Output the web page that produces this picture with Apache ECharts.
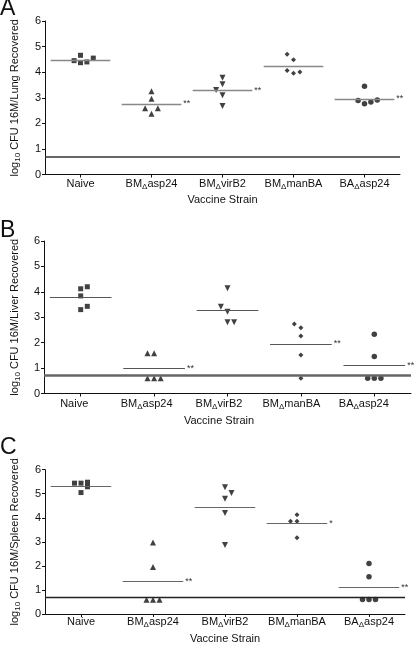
<!DOCTYPE html>
<html>
<head>
<meta charset="utf-8">
<script src="https://cdn.jsdelivr.net/npm/echarts@6/dist/echarts.min.js"></script>
<style>
html,body{margin:0;padding:0;background:#fff;}
#chart{width:416px;height:645px;}
</style>
</head>
<body>
<div id="chart"></div>
<script>
// ---------- data ----------
const categories = ['Naive', 'BMΔasp24', 'BMΔvirB2', 'BMΔmanBA', 'BAΔasp24'];
const yTicks = [0, 1, 2, 3, 4, 5, 6];
const detectionLimit = 0.7;

// Panel A: lung
const lungNaive   = [4.45, 4.66, 4.37, 4.40, 4.55];
const lungAsp24   = [3.25, 2.96, 2.59, 2.59, 2.37];
const lungVirB2   = [3.78, 3.53, 3.30, 3.10, 2.68];
const lungManBA   = [4.70, 4.49, 4.07, 3.96, 4.01];
const lungBAasp24 = [3.45, 2.89, 2.77, 2.83, 2.91];
const lungMeans   = [4.48, 2.76, 3.28, 4.25, 2.96];
const lungSig     = ['', '**', '**', '', '**'];
const lungSlots   = [[-1,0,0,1,2],[0,0,-1,1,0],[0,0,-1,0,0],[-1,0,-1,0,1],[0,-1,0,1,2]];

// Panel B: liver
const liverNaive   = [4.12, 4.20, 3.84, 3.43, 3.30];
const liverAsp24   = [1.58, 1.58, 0.60, 0.60, 0.60];
const liverVirB2   = [4.14, 3.41, 3.22, 2.80, 2.80];
const liverManBA   = [2.73, 2.59, 2.26, 1.51, 0.60];
const liverBAasp24 = [2.33, 1.46, 0.60, 0.60, 0.60];
const liverMeans   = [3.78, 0.98, 3.26, 1.95, 1.12];
const liverSig     = ['', '**', '', '**', '**'];
const liverSlots   = [[0,1,0,1,0],[-1,0,-1,0,1],[0,-1,0,0,1],[-1,0,0,0,0],[0,0,-1,0,1]];

// Panel C: spleen
const spleenNaive   = [5.44, 5.44, 5.48, 5.29, 5.05];
const spleenAsp24   = [2.97, 1.95, 0.59, 0.59, 0.59];
const spleenVirB2   = [5.27, 4.79, 5.03, 4.20, 2.87];
const spleenManBA   = [4.13, 3.86, 3.86, 3.17];
const spleenBAasp24 = [2.10, 1.55, 0.60, 0.60, 0.60];
const spleenMeans   = [5.33, 1.36, 4.42, 3.76, 1.10];
const spleenSig     = ['', '**', '', '*', '**'];
const spleenSlots   = [[-1,0,1,1,0],[0,0,-1,0,1],[0,0,1,0,0],[0,-1,0,0],[0,0,-1,0,1]];

// ---------- styling ----------
const FONT = '"Liberation Sans", Arial, Helvetica, sans-serif';
const INK = '#111';
const JIT = 0.09;     // jitter step in category units
const HALF = 0.42;    // half width of mean bar in category units
const symbols = ['rect', 'triangle', 'triangle', 'diamond', 'circle'];
const symbolRot = [0, 0, 180, 0, 0];
const symbolSz = [5, 6, 6, 5, 5.5];

function catLabel(s) { return s.replace('Δ', '{d|Δ}'); }
const catRich = { d: { fontSize: 8, verticalAlign: 'bottom', lineHeight: 9, fontFamily: FONT, color: INK } };
const nameRich = { s: { fontSize: 8, verticalAlign: 'bottom', lineHeight: 9, fontFamily: FONT, color: INK } };

const grids = [
  { left: 38, top: 21, width: 362, height: 153.5 },
  { left: 37, top: 241, width: 374, height: 152.5 },
  { left: 38, top: 241, width: 362, height: 152.5 },
  { left: 38, top: 469.7, width: 367, height: 145.6 }
];

function labelCfg(margin) {
  return { show: true, interval: 0, formatter: catLabel, fontSize: 11, color: INK, fontFamily: FONT, margin: margin, rich: catRich, lineHeight: 13 };
}
function catAxis(gi, opts) {
  return Object.assign({
    type: 'category', gridIndex: gi, data: categories, boundaryGap: true,
    axisLine: { onZero: false, lineStyle: { color: INK, width: 1 } },
    axisTick: { show: true, interval: 0, alignWithLabel: true, length: 3, lineStyle: { color: INK } },
    axisLabel: labelCfg(3),
    name: 'Vaccine Strain', nameLocation: 'middle', nameGap: 20,
    nameTextStyle: { fontSize: 11, color: INK, fontFamily: FONT, verticalAlign: 'top' },
    splitLine: { show: false }
  }, opts || {});
}
function valXAxis(gi) {
  return { type: 'value', gridIndex: gi, min: -0.5, max: 4.5, show: false, splitLine: { show: false } };
}
function yAxis(gi, name, opts) {
  return Object.assign({
    type: 'value', gridIndex: gi, min: yTicks[0], max: yTicks[yTicks.length - 1], interval: 1,
    axisLine: { show: true, onZero: false, lineStyle: { color: INK, width: 1 } },
    axisTick: { show: true, length: 3, lineStyle: { color: INK } },
    axisLabel: { fontSize: 11, color: INK, fontFamily: FONT, margin: 4 },
    splitLine: { show: false },
    name: name, nameLocation: 'middle', nameGap: 22, nameRotate: 90,
    nameTextStyle: { fontSize: 11, color: INK, fontFamily: FONT, lineHeight: 14, rich: nameRich }
  }, opts || {});
}

const xAxes = [
  catAxis(0, { nameGap: 20 }),
  valXAxis(0),
  catAxis(1, { axisLabel: { show: false }, name: '' }),
  valXAxis(1),
  catAxis(2, { axisLine: { show: false }, axisTick: { show: false }, nameGap: 22, axisLabel: labelCfg(4) }),
  catAxis(3, { nameGap: 19, axisLabel: labelCfg(1.5) }),
  valXAxis(3)
];
const yAxes = [
  yAxis(0, 'log{s|10} CFU 16M/Lung Recovered', { nameGap: 23 }),
  yAxis(1, 'log{s|10} CFU 16M/Liver Recovered', { nameGap: 22 }),
  yAxis(2, '', { show: false }),
  yAxis(3, 'log{s|10} CFU 16M/Spleen Recovered', { nameGap: 23 })
];

function panelSeries(groups, slots, means, sig, xIdx, yIdx, meanStyle, lodStyle) {
  const out = [];
  groups.forEach(function (vals, k) {
    const ml = [[
      { coord: [k - HALF, means[k]] },
      { coord: [k + HALF, means[k]], label: { show: sig[k] !== '', formatter: sig[k] } }
    ]];
    if (k === 0) ml.push({ yAxis: detectionLimit, lineStyle: lodStyle, label: { show: false } });
    out.push({
      type: 'scatter', xAxisIndex: xIdx, yAxisIndex: yIdx,
      symbol: symbols[k], symbolRotate: symbolRot[k], symbolSize: symbolSz[k],
      itemStyle: { color: INK },
      data: vals.map(function (v, j) { return [k + slots[k][j] * JIT, v]; }),
      markLine: {
        silent: true, symbol: 'none', animation: false,
        lineStyle: meanStyle,
        label: { show: false, position: 'end', distance: 2, fontSize: 9, color: '#333', fontFamily: FONT },
        emphasis: { disabled: true },
        data: ml
      }
    });
  });
  return out;
}

const series = [].concat(
  panelSeries([lungNaive, lungAsp24, lungVirB2, lungManBA, lungBAasp24], lungSlots, lungMeans, lungSig, 1, 0,
    { color: '#888', width: 1.3, type: 'solid' }, { color: '#333', width: 1.6, type: 'solid' }),
  panelSeries([liverNaive, liverAsp24, liverVirB2, liverManBA, liverBAasp24], liverSlots, liverMeans, liverSig, 3, 1,
    { color: '#555', width: 1.1, type: 'solid' }, { color: '#666', width: 2.5, type: 'solid' }),
  panelSeries([spleenNaive, spleenAsp24, spleenVirB2, spleenManBA, spleenBAasp24], spleenSlots, spleenMeans, spleenSig, 6, 3,
    { color: '#666', width: 1.2, type: 'solid' }, { color: '#222', width: 1.4, type: 'solid' })
);

const letters = [['A', -3], ['B', 219], ['C', 436]];
const chart = echarts.init(document.getElementById('chart'), null, { renderer: 'canvas' });
chart.setOption({
  animation: false,
  backgroundColor: '#fff',
  grid: grids,
  xAxis: xAxes,
  yAxis: yAxes,
  series: series,
  graphic: letters.map(function (l) {
    return { type: 'text', left: 0, top: l[1], style: { text: l[0], fontSize: 23, fontFamily: FONT, fill: INK } };
  })
});
</script>
</body>
</html>
